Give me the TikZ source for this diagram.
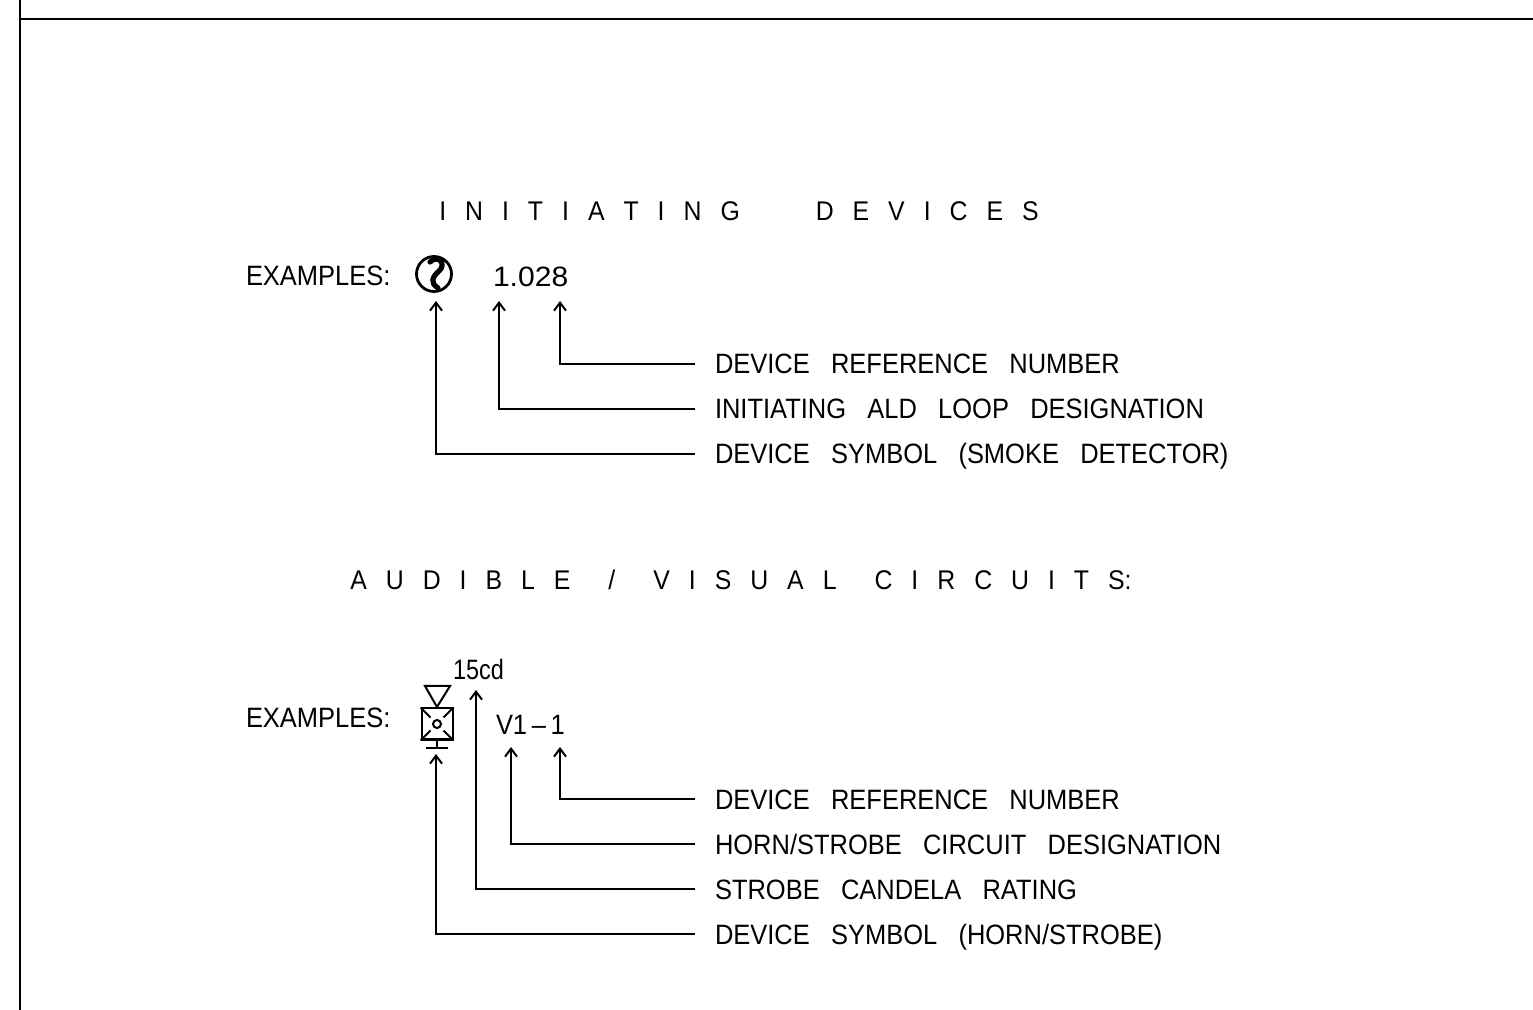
\documentclass[tikz,border=0pt]{standalone}
\usepackage{fontspec}
\usepackage{graphicx}
\setmainfont[FakeStretch=0.91,WordSpace=3.0]{Liberation Sans}
\newfontfamily\titlefont[FakeStretch=0.92,WordSpace=2.75]{Liberation Sans}
\usetikzlibrary{arrows.meta}

\begin{document}
\begin{tikzpicture}[x=0.5pt, y=-0.5pt, line width=1pt,
    every node/.style={font=\fontsize{14}{16}\selectfont, inner sep=0pt, text height=10pt, text depth=0pt},
    title/.style={font=\titlefont\fontsize{13.5}{15}\selectfont, text height=9.5pt},
    tip/.style={-{Straight Barb[length=4pt,width=6pt]}},
    lbl/.style={anchor=west, inner xsep=9.5pt}]
    \useasboundingbox (0,0) rectangle (1533,1010);
    % sheet border
    \draw[line width=1.3pt] (20,0) -- (20,1010);
    \draw[line width=1.3pt] (20,19) -- (1533,19);
    % initiating devices
    \node[title] (init_title) at (739,211) {I~N~I~T~I~A~T~I~N~G~~~~D~E~V~I~C~E~S};
    \node[anchor=west] (init_ex) at (245,276) {EXAMPLES:};
    \node[circle, draw, line width=1.4pt, minimum size=17.5pt] (smoke) at (434,274) {};
    \draw[line width=2.6pt, line cap=round] (430,262) .. controls (438,254) and (447,264) .. (439,271)
        .. controls (432,277) and (430,283) .. (438,288);
    \node[anchor=west] (init_num) at (492,277) {\scalebox{1.18}[1]{1.028}};
    \foreach \n/\yy/\xx/\txt in {ref/364/560/DEVICE REFERENCE NUMBER,
                                 loop/409/499/INITIATING ALD LOOP DESIGNATION,
                                 sym/454/436/DEVICE SYMBOL (SMOKE DETECTOR)} {
        \coordinate (init_tip_\n) at (\xx,301);
        \node[lbl] (init_lbl_\n) at (695,\yy) {\txt};
        \draw[tip] (init_lbl_\n.west) -| (init_tip_\n);
    }
    % audible / visual circuits
    \node[title] (av_title) at (741,580) {A~U~D~I~B~L~E~~/~~V~I~S~U~A~L~~C~I~R~C~U~I~T~S:};
    \node[anchor=west] (av_ex) at (245,717) {EXAMPLES:};
    \node[draw, minimum size=15.5pt] (horn) at (437,724) {};
    \draw (425,686) -- (450,686) -- (437,707) -- cycle;
    \draw (horn.center) circle[radius=2pt];
    \draw (horn.north west) -- ++(10,10);
    \draw (horn.north east) -- ++(-10,10);
    \draw (horn.south west) -- ++(10,-10);
    \draw (horn.south east) -- ++(-10,-10);
    \draw (horn.south) -- ++(0,8);
    \draw (426,748) -- (448,748);
    \node[anchor=west] (av_cd) at (452,670) {\scalebox{0.92}[1]{15cd}};
    \node[anchor=west] (av_num) at (495,724) {V1\,--\,1};
    \foreach \n/\yy/\xx/\ty/\txt in {ref/799/560/747/DEVICE REFERENCE NUMBER,
                                     ckt/844/511/747/{HORN/STROBE CIRCUIT DESIGNATION},
                                     cd/889/476/690/STROBE CANDELA RATING,
                                     sym/934/436/754/{DEVICE SYMBOL (HORN/STROBE)}} {
        \coordinate (av_tip_\n) at (\xx,\ty);
        \node[lbl] (av_lbl_\n) at (695,\yy) {\txt};
        \draw[tip] (av_lbl_\n.west) -| (av_tip_\n);
    }
\end{tikzpicture}
\end{document}
